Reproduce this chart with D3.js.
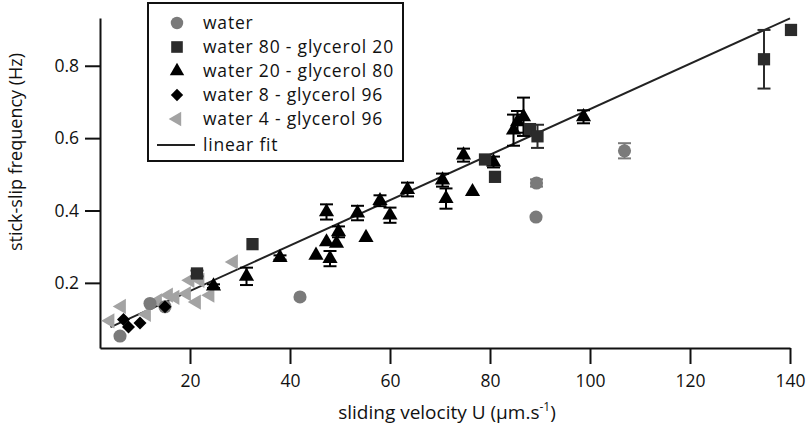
<!DOCTYPE html>
<html>
<head>
<meta charset="utf-8">
<script src="https://cdn.jsdelivr.net/npm/d3@7"></script>
<style>
  body { margin: 0; background: #fff; }
  text { font-family: "Open Sans", "Noto Sans", sans-serif; fill: #111; }
</style>
</head>
<body>
<div id="chart"></div>
<script>
// [velocity, frequency, error]
var water = [
  [6, 0.053, 0], [12, 0.143, 0], [15, 0.134, 0], [42, 0.161, 0],
  [89.2, 0.382, 0], [89.3, 0.476, 0.01], [106.9, 0.565, 0.021]
];
var water80 = [
  [21.4, 0.226, 0.008], [32.5, 0.307, 0], [79, 0.541, 0], [81, 0.493, 0],
  [88, 0.625, 0], [89.5, 0.605, 0.032], [134.8, 0.818, 0.081], [140.2, 0.899, 0]
];
var water20 = [
  [24.7, 0.191, 0.005], [31.3, 0.218, 0.024], [38, 0.27, 0.006], [45.2, 0.276, 0],
  [47.3, 0.396, 0.021], [47.3, 0.313, 0], [48, 0.267, 0.021], [49.3, 0.309, 0],
  [49.7, 0.341, 0.015], [53.5, 0.393, 0.02], [55.2, 0.325, 0], [58, 0.427, 0.015],
  [60, 0.387, 0.021], [63.5, 0.458, 0.019], [70.5, 0.484, 0.018], [71.2, 0.433, 0.028],
  [74.7, 0.553, 0.018], [76.5, 0.452, 0], [80.7, 0.534, 0.015], [84.7, 0.622, 0.043],
  [85.5, 0.645, 0.03], [86.7, 0.659, 0.053], [98.7, 0.659, 0.018]
];
var water8 = [
  [6.7, 0.099, 0], [7.7, 0.078, 0], [10, 0.089, 0], [15, 0.134, 0]
];
var water4 = [
  [4, 0.095, 0], [6.3, 0.135, 0], [11.3, 0.113, 0], [13.5, 0.15, 0], [15.7, 0.166, 0],
  [17, 0.16, 0], [19.3, 0.17, 0], [21.3, 0.147, 0], [20, 0.207, 0], [22, 0.207, 0],
  [24, 0.166, 0], [28.7, 0.258, 0]
];
var fitSlope = 0.00628, fitIntercept = 0.052, fitRange = [4.1, 140];

var xTicks = [20, 40, 60, 80, 100, 120, 140];
var yTicks = [0.2, 0.4, 0.6, 0.8];
var legendLabels = ["water", "water 80 - glycerol 20", "water 20 - glycerol 80",
  "water 8 - glycerol 96", "water 4 - glycerol 96", "linear fit"];

var width = 808, height = 433;

var svg = d3.select('#chart').append('svg')
  .attr('width', width)
  .attr('height', height);

var x = d3.scaleLinear().domain([2, 140]).range([100, 790]);
var y = d3.scaleLinear().domain([0.02, 0.932]).range([348, 18]);

// axes
var xAxis = svg.append('g')
  .attr('transform', 'translate(0,348)')
  .call(d3.axisBottom(x).tickValues(xTicks).tickSize(16).tickPadding(11).tickSizeOuter(0));
var yAxis = svg.append('g')
  .attr('transform', 'translate(100,0)')
  .call(d3.axisLeft(y).tickValues(yTicks).tickSize(15).tickPadding(6).tickSizeOuter(0)
    .tickFormat(d3.format('.1f')));

[xAxis, yAxis].forEach(function(a) {
  a.select('.domain').attr('stroke', '#111').attr('stroke-width', 2);
  a.selectAll('.tick line').attr('stroke', '#111').attr('stroke-width', 2);
  a.selectAll('.tick text').style('font-size', '17.5px').style('font-family', '"Open Sans", sans-serif').attr('fill', '#111');
});

svg.append('text')
  .attr('x', 447).attr('y', 419)
  .attr('text-anchor', 'middle')
  .style('font-size', '19px')
  .html('sliding velocity U (µm.s<tspan dy="-8" font-size="12">-1</tspan><tspan dy="8">)</tspan>');

svg.append('text')
  .attr('transform', 'translate(22,152) rotate(-90)')
  .attr('text-anchor', 'middle')
  .style('font-size', '18px')
  .text('stick-slip frequency (Hz)');

// fit line
svg.append('line')
  .attr('x1', x(fitRange[0])).attr('y1', y(fitIntercept + fitSlope * fitRange[0]))
  .attr('x2', x(fitRange[1])).attr('y2', y(fitIntercept + fitSlope * fitRange[1]))
  .attr('stroke', '#222').attr('stroke-width', 2);

var series = [
  { data: water4, color: '#a3a3a3', sym: d3.symbolTriangle, size: 100, rot: -90 },
  { data: water, color: '#7a7a7a', sym: d3.symbolCircle, size: 135, rot: 0 },
  { data: water8, color: '#000', sym: d3.symbolSquare, size: 85, rot: 45 },
  { data: water20, color: '#000', sym: d3.symbolTriangle, size: 100, rot: 0 },
  { data: water80, color: '#2b2b2b', sym: d3.symbolSquare, size: 150, rot: 0 }
];

series.forEach(function(s) {
  var g = svg.append('g');
  var eb = g.selectAll('.err').data(s.data.filter(function(d) { return d[2] > 0; }))
    .enter().append('g').attr('stroke', s.color).attr('stroke-width', 2);
  eb.append('line')
    .attr('x1', function(d) { return x(d[0]); }).attr('x2', function(d) { return x(d[0]); })
    .attr('y1', function(d) { return y(d[1] - d[2]); }).attr('y2', function(d) { return y(d[1] + d[2]); });
  [-1, 1].forEach(function(k) {
    eb.append('line')
      .attr('x1', function(d) { return x(d[0]) - 6.5; }).attr('x2', function(d) { return x(d[0]) + 6.5; })
      .attr('y1', function(d) { return y(d[1] + k * d[2]); }).attr('y2', function(d) { return y(d[1] + k * d[2]); });
  });
  g.selectAll('path').data(s.data).enter().append('path')
    .attr('d', d3.symbol().type(s.sym).size(s.size))
    .attr('transform', function(d) {
      return 'translate(' + x(d[0]) + ',' + y(d[1]) + ') rotate(' + s.rot + ')';
    })
    .attr('fill', s.color);
});

// legend
var lg = svg.append('g');
lg.append('rect')
  .attr('x', 148).attr('y', 3).attr('width', 255).attr('height', 158)
  .attr('fill', '#fff').attr('stroke', '#111').attr('stroke-width', 2);
var legendSyms = [series[1], series[4], series[3], series[2], series[0]];
var rowY = [23, 47, 71, 95, 119, 145];
legendSyms.forEach(function(s, i) {
  lg.append('path')
    .attr('d', d3.symbol().type(s.sym).size(s.size * 0.9))
    .attr('transform', 'translate(177,' + rowY[i] + ') rotate(' + s.rot + ')')
    .attr('fill', s.color);
});
lg.append('line')
  .attr('x1', 157).attr('x2', 195).attr('y1', rowY[5]).attr('y2', rowY[5])
  .attr('stroke', '#222').attr('stroke-width', 2);
legendLabels.forEach(function(t, i) {
  lg.append('text')
    .attr('x', 203).attr('y', rowY[i] + 6)
    .style('font-size', '17.5px')
    .style('letter-spacing', '0.8px')
    .text(t);
});
</script>
</body>
</html>
